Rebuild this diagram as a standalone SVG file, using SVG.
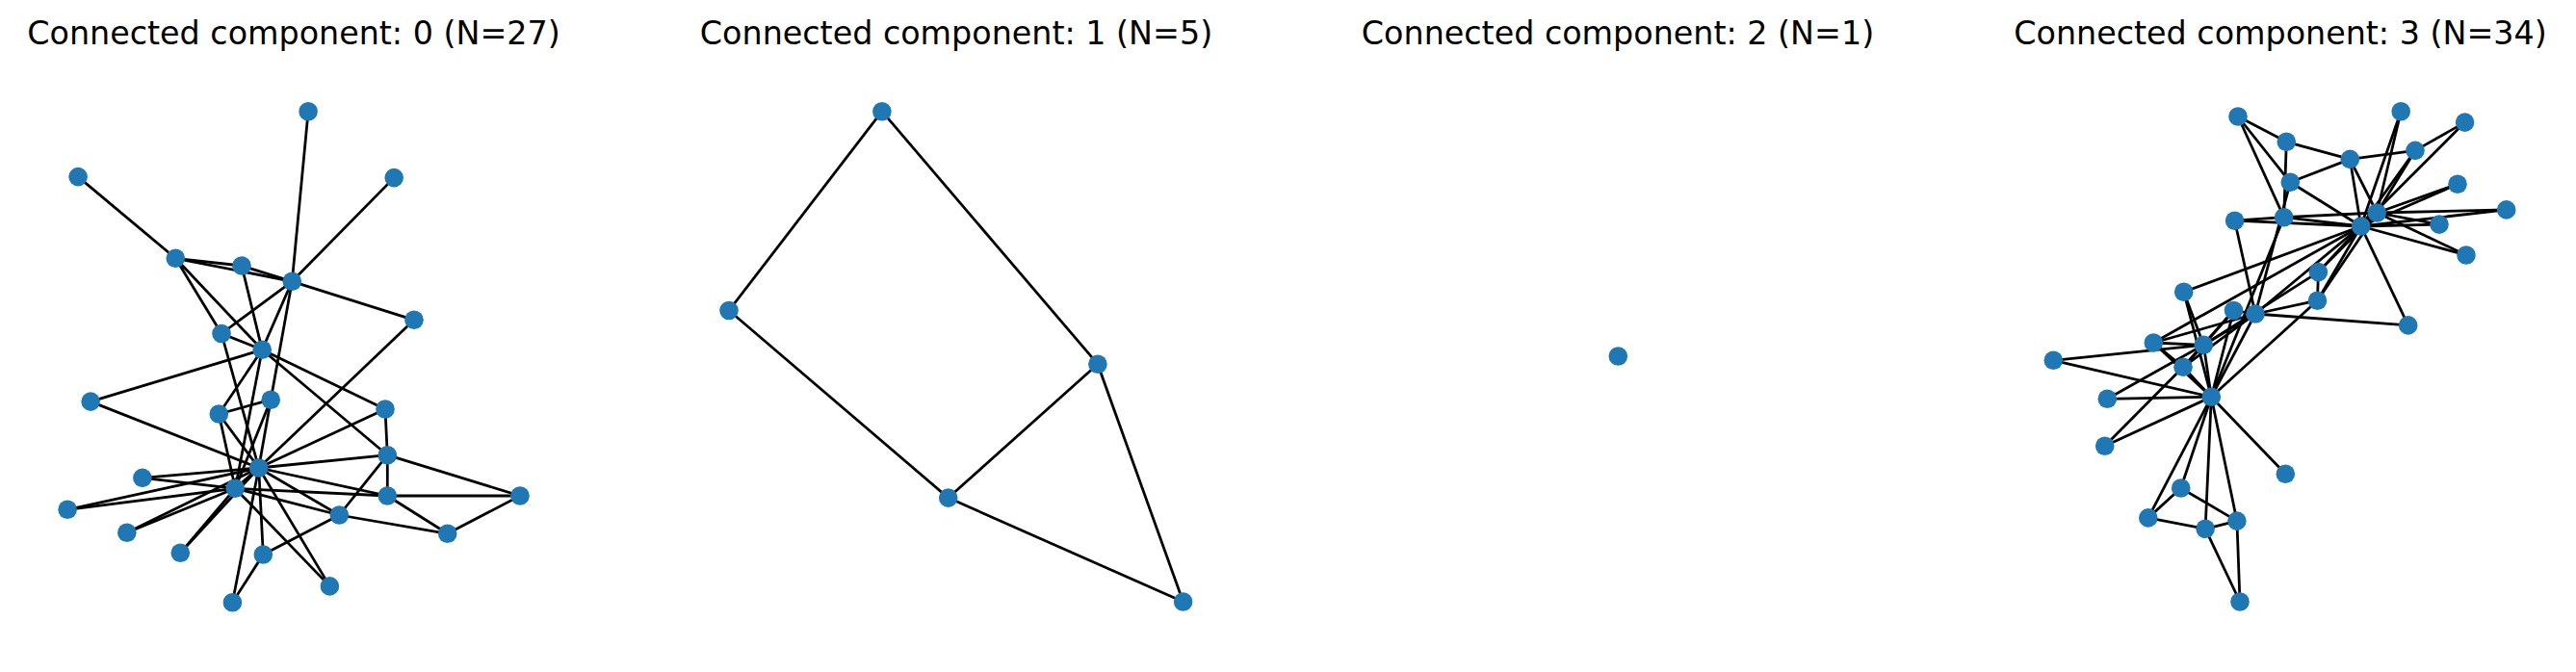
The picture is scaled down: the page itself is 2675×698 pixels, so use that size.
<svg xmlns="http://www.w3.org/2000/svg" width="2675" height="698" viewBox="0 0 2675 698">
<style>
.e{stroke:#000;stroke-width:2.78;stroke-linecap:butt}
.n{fill:#1f77b4}
.t{font-family:"DejaVu Sans",sans-serif;font-size:33.33px;text-anchor:middle;fill:#000}
</style>
<rect width="2675" height="698" fill="#fff"/>
<g id="titles">
<text class="t" x="305" y="46">Connected component: 0 (N=27)</text>
<text class="t" x="993" y="46">Connected component: 1 (N=5)</text>
<text class="t" x="1680" y="46">Connected component: 2 (N=1)</text>
<text class="t" x="2368" y="46">Connected component: 3 (N=34)</text>
</g>
<g id="connectors">
<line class="e" x1="81.1" y1="183.6" x2="182.3" y2="268.3"/>
<line class="e" x1="320.1" y1="115.7" x2="303.3" y2="292.3"/>
<line class="e" x1="409.2" y1="184.6" x2="303.3" y2="292.3"/>
<line class="e" x1="182.3" y1="268.3" x2="251" y2="276"/>
<line class="e" x1="182.3" y1="268.3" x2="303.3" y2="292.3"/>
<line class="e" x1="251" y1="276" x2="303.3" y2="292.3"/>
<line class="e" x1="303.3" y1="292.3" x2="430" y2="332.3"/>
<line class="e" x1="182.3" y1="268.3" x2="230" y2="346.5"/>
<line class="e" x1="182.3" y1="268.3" x2="272.2" y2="363.3"/>
<line class="e" x1="251" y1="276" x2="272.2" y2="363.3"/>
<line class="e" x1="303.3" y1="292.3" x2="230" y2="346.5"/>
<line class="e" x1="303.3" y1="292.3" x2="272.2" y2="363.3"/>
<line class="e" x1="303.3" y1="292.3" x2="281.2" y2="415.2"/>
<line class="e" x1="230" y1="346.5" x2="272.2" y2="363.3"/>
<line class="e" x1="230" y1="346.5" x2="268.7" y2="486"/>
<line class="e" x1="272.2" y1="363.3" x2="94.1" y2="417.1"/>
<line class="e" x1="272.2" y1="363.3" x2="227.3" y2="430"/>
<line class="e" x1="272.2" y1="363.3" x2="244.3" y2="507.3"/>
<line class="e" x1="272.2" y1="363.3" x2="400" y2="425"/>
<line class="e" x1="272.2" y1="363.3" x2="402.3" y2="472.7"/>
<line class="e" x1="94.1" y1="417.1" x2="268.7" y2="486"/>
<line class="e" x1="281.2" y1="415.2" x2="227.3" y2="430"/>
<line class="e" x1="281.2" y1="415.2" x2="268.7" y2="486"/>
<line class="e" x1="281.2" y1="415.2" x2="244.3" y2="507.3"/>
<line class="e" x1="227.3" y1="430" x2="268.7" y2="486"/>
<line class="e" x1="227.3" y1="430" x2="244.3" y2="507.3"/>
<line class="e" x1="430" y1="332.3" x2="268.7" y2="486"/>
<line class="e" x1="400" y1="425" x2="402.3" y2="472.7"/>
<line class="e" x1="400" y1="425" x2="268.7" y2="486"/>
<line class="e" x1="402.3" y1="472.7" x2="268.7" y2="486"/>
<line class="e" x1="402.3" y1="472.7" x2="402.3" y2="515"/>
<line class="e" x1="402.3" y1="472.7" x2="352.3" y2="535"/>
<line class="e" x1="402.3" y1="472.7" x2="540" y2="515"/>
<line class="e" x1="402.3" y1="515" x2="540" y2="515"/>
<line class="e" x1="402.3" y1="515" x2="464.7" y2="554.3"/>
<line class="e" x1="540" y1="515" x2="464.7" y2="554.3"/>
<line class="e" x1="352.3" y1="535" x2="464.7" y2="554.3"/>
<line class="e" x1="352.3" y1="535" x2="273.3" y2="576"/>
<line class="e" x1="268.7" y1="486" x2="402.3" y2="515"/>
<line class="e" x1="244.3" y1="507.3" x2="402.3" y2="515"/>
<line class="e" x1="268.7" y1="486" x2="352.3" y2="535"/>
<line class="e" x1="244.3" y1="507.3" x2="352.3" y2="535"/>
<line class="e" x1="268.7" y1="486" x2="147.9" y2="496.4"/>
<line class="e" x1="147.9" y1="496.4" x2="244.3" y2="507.3"/>
<line class="e" x1="268.7" y1="486" x2="70.1" y2="529.3"/>
<line class="e" x1="244.3" y1="507.3" x2="70.1" y2="529.3"/>
<line class="e" x1="268.7" y1="486" x2="131.8" y2="553.2"/>
<line class="e" x1="244.3" y1="507.3" x2="131.8" y2="553.2"/>
<line class="e" x1="268.7" y1="486" x2="187.3" y2="574.3"/>
<line class="e" x1="244.3" y1="507.3" x2="187.3" y2="574.3"/>
<line class="e" x1="268.7" y1="486" x2="273.3" y2="576"/>
<line class="e" x1="268.7" y1="486" x2="342.4" y2="608.9"/>
<line class="e" x1="244.3" y1="507.3" x2="342.4" y2="608.9"/>
<line class="e" x1="268.7" y1="486" x2="241.4" y2="625.7"/>
<line class="e" x1="273.3" y1="576" x2="241.4" y2="625.7"/>
<line class="e" x1="268.7" y1="486" x2="244.3" y2="507.3"/>
<line class="e" x1="915.9" y1="115.7" x2="757" y2="322.5"/>
<line class="e" x1="915.9" y1="115.7" x2="1139.9" y2="378.2"/>
<line class="e" x1="757" y1="322.5" x2="984.7" y2="517.1"/>
<line class="e" x1="1139.9" y1="378.2" x2="984.7" y2="517.1"/>
<line class="e" x1="1139.9" y1="378.2" x2="1228.6" y2="625"/>
<line class="e" x1="984.7" y1="517.1" x2="1228.6" y2="625"/>
<line class="e" x1="2296.3" y1="412.3" x2="2288.3" y2="358.3"/>
<line class="e" x1="2296.3" y1="412.3" x2="2342" y2="326"/>
<line class="e" x1="2296.3" y1="412.3" x2="2267" y2="381.3"/>
<line class="e" x1="2296.3" y1="412.3" x2="2264.7" y2="507"/>
<line class="e" x1="2296.3" y1="412.3" x2="2290.1" y2="549.3"/>
<line class="e" x1="2296.3" y1="412.3" x2="2322.9" y2="541.1"/>
<line class="e" x1="2296.3" y1="412.3" x2="2319.5" y2="322.5"/>
<line class="e" x1="2296.3" y1="412.3" x2="2406.5" y2="312.2"/>
<line class="e" x1="2296.3" y1="412.3" x2="2230.8" y2="537.9"/>
<line class="e" x1="2296.3" y1="412.3" x2="2373.3" y2="492.2"/>
<line class="e" x1="2296.3" y1="412.3" x2="2185.7" y2="463.3"/>
<line class="e" x1="2296.3" y1="412.3" x2="2236.3" y2="356"/>
<line class="e" x1="2296.3" y1="412.3" x2="2132.3" y2="374.3"/>
<line class="e" x1="2296.3" y1="412.3" x2="2267.7" y2="303.3"/>
<line class="e" x1="2296.3" y1="412.3" x2="2188.3" y2="414.3"/>
<line class="e" x1="2296.3" y1="412.3" x2="2371.7" y2="225.7"/>
<line class="e" x1="2288.3" y1="358.3" x2="2342" y2="326"/>
<line class="e" x1="2288.3" y1="358.3" x2="2267" y2="381.3"/>
<line class="e" x1="2288.3" y1="358.3" x2="2319.5" y2="322.5"/>
<line class="e" x1="2288.3" y1="358.3" x2="2236.3" y2="356"/>
<line class="e" x1="2288.3" y1="358.3" x2="2132.3" y2="374.3"/>
<line class="e" x1="2288.3" y1="358.3" x2="2267.7" y2="303.3"/>
<line class="e" x1="2288.3" y1="358.3" x2="2188.3" y2="414.3"/>
<line class="e" x1="2288.3" y1="358.3" x2="2407.4" y2="282.6"/>
<line class="e" x1="2342" y1="326" x2="2267" y2="381.3"/>
<line class="e" x1="2342" y1="326" x2="2319.5" y2="322.5"/>
<line class="e" x1="2342" y1="326" x2="2406.5" y2="312.2"/>
<line class="e" x1="2342" y1="326" x2="2500.7" y2="337.9"/>
<line class="e" x1="2342" y1="326" x2="2236.3" y2="356"/>
<line class="e" x1="2342" y1="326" x2="2378.3" y2="189.3"/>
<line class="e" x1="2342" y1="326" x2="2320.6" y2="229.2"/>
<line class="e" x1="2342" y1="326" x2="2468.3" y2="221"/>
<line class="e" x1="2267" y1="381.3" x2="2319.5" y2="322.5"/>
<line class="e" x1="2267" y1="381.3" x2="2185.7" y2="463.3"/>
<line class="e" x1="2267" y1="381.3" x2="2236.3" y2="356"/>
<line class="e" x1="2264.7" y1="507" x2="2322.9" y2="541.1"/>
<line class="e" x1="2264.7" y1="507" x2="2230.8" y2="537.9"/>
<line class="e" x1="2290.1" y1="549.3" x2="2322.9" y2="541.1"/>
<line class="e" x1="2290.1" y1="549.3" x2="2230.8" y2="537.9"/>
<line class="e" x1="2290.1" y1="549.3" x2="2326" y2="625"/>
<line class="e" x1="2322.9" y1="541.1" x2="2326" y2="625"/>
<line class="e" x1="2406.5" y1="312.2" x2="2407.4" y2="282.6"/>
<line class="e" x1="2406.5" y1="312.2" x2="2468.3" y2="221"/>
<line class="e" x1="2406.5" y1="312.2" x2="2451.7" y2="235"/>
<line class="e" x1="2500.7" y1="337.9" x2="2451.7" y2="235"/>
<line class="e" x1="2236.3" y1="356" x2="2451.7" y2="235"/>
<line class="e" x1="2493.2" y1="115.7" x2="2468.3" y2="221"/>
<line class="e" x1="2493.2" y1="115.7" x2="2451.7" y2="235"/>
<line class="e" x1="2552" y1="191.3" x2="2468.3" y2="221"/>
<line class="e" x1="2552" y1="191.3" x2="2451.7" y2="235"/>
<line class="e" x1="2602.7" y1="217.9" x2="2468.3" y2="221"/>
<line class="e" x1="2602.7" y1="217.9" x2="2451.7" y2="235"/>
<line class="e" x1="2267.7" y1="303.3" x2="2451.7" y2="235"/>
<line class="e" x1="2533" y1="233.1" x2="2468.3" y2="221"/>
<line class="e" x1="2533" y1="233.1" x2="2451.7" y2="235"/>
<line class="e" x1="2561" y1="265" x2="2468.3" y2="221"/>
<line class="e" x1="2561" y1="265" x2="2451.7" y2="235"/>
<line class="e" x1="2440.3" y1="165.4" x2="2374.3" y2="147.3"/>
<line class="e" x1="2440.3" y1="165.4" x2="2378.3" y2="189.3"/>
<line class="e" x1="2440.3" y1="165.4" x2="2508" y2="156.4"/>
<line class="e" x1="2440.3" y1="165.4" x2="2468.3" y2="221"/>
<line class="e" x1="2440.3" y1="165.4" x2="2451.7" y2="235"/>
<line class="e" x1="2324" y1="121" x2="2374.3" y2="147.3"/>
<line class="e" x1="2324" y1="121" x2="2378.3" y2="189.3"/>
<line class="e" x1="2324" y1="121" x2="2371.7" y2="225.7"/>
<line class="e" x1="2374.3" y1="147.3" x2="2371.7" y2="225.7"/>
<line class="e" x1="2559.6" y1="127.1" x2="2508" y2="156.4"/>
<line class="e" x1="2559.6" y1="127.1" x2="2451.7" y2="235"/>
<line class="e" x1="2378.3" y1="189.3" x2="2451.7" y2="235"/>
<line class="e" x1="2320.6" y1="229.2" x2="2371.7" y2="225.7"/>
<line class="e" x1="2320.6" y1="229.2" x2="2451.7" y2="235"/>
<line class="e" x1="2508" y1="156.4" x2="2468.3" y2="221"/>
<line class="e" x1="2508" y1="156.4" x2="2451.7" y2="235"/>
<line class="e" x1="2407.4" y1="282.6" x2="2468.3" y2="221"/>
<line class="e" x1="2407.4" y1="282.6" x2="2451.7" y2="235"/>
<line class="e" x1="2371.7" y1="225.7" x2="2468.3" y2="221"/>
<line class="e" x1="2371.7" y1="225.7" x2="2451.7" y2="235"/>
<line class="e" x1="2468.3" y1="221" x2="2451.7" y2="235"/>
</g>
<g id="c0-A"><circle class="n" cx="320.1" cy="115.7" r="9.8"/></g>
<g id="c0-B"><circle class="n" cx="81.1" cy="183.6" r="9.8"/></g>
<g id="c0-C"><circle class="n" cx="409.2" cy="184.6" r="9.8"/></g>
<g id="c0-D"><circle class="n" cx="182.3" cy="268.3" r="9.8"/></g>
<g id="c0-E"><circle class="n" cx="251" cy="276" r="9.8"/></g>
<g id="c0-F"><circle class="n" cx="303.3" cy="292.3" r="9.8"/></g>
<g id="c0-G"><circle class="n" cx="430" cy="332.3" r="9.8"/></g>
<g id="c0-H"><circle class="n" cx="230" cy="346.5" r="9.8"/></g>
<g id="c0-I"><circle class="n" cx="272.2" cy="363.3" r="9.8"/></g>
<g id="c0-J"><circle class="n" cx="94.1" cy="417.1" r="9.8"/></g>
<g id="c0-K"><circle class="n" cx="281.2" cy="415.2" r="9.8"/></g>
<g id="c0-L"><circle class="n" cx="227.3" cy="430" r="9.8"/></g>
<g id="c0-M"><circle class="n" cx="400" cy="425" r="9.8"/></g>
<g id="c0-N"><circle class="n" cx="402.3" cy="472.7" r="9.8"/></g>
<g id="c0-O"><circle class="n" cx="268.7" cy="486" r="9.8"/></g>
<g id="c0-P"><circle class="n" cx="147.9" cy="496.4" r="9.8"/></g>
<g id="c0-Q"><circle class="n" cx="244.3" cy="507.3" r="9.8"/></g>
<g id="c0-R"><circle class="n" cx="402.3" cy="515" r="9.8"/></g>
<g id="c0-S"><circle class="n" cx="540" cy="515" r="9.8"/></g>
<g id="c0-T"><circle class="n" cx="70.1" cy="529.3" r="9.8"/></g>
<g id="c0-U"><circle class="n" cx="352.3" cy="535" r="9.8"/></g>
<g id="c0-V"><circle class="n" cx="131.8" cy="553.2" r="9.8"/></g>
<g id="c0-W"><circle class="n" cx="464.7" cy="554.3" r="9.8"/></g>
<g id="c0-X"><circle class="n" cx="187.3" cy="574.3" r="9.8"/></g>
<g id="c0-Y"><circle class="n" cx="273.3" cy="576" r="9.8"/></g>
<g id="c0-Z"><circle class="n" cx="342.4" cy="608.9" r="9.8"/></g>
<g id="c0-AA"><circle class="n" cx="241.4" cy="625.7" r="9.8"/></g>
<g id="c1-a"><circle class="n" cx="915.9" cy="115.7" r="9.8"/></g>
<g id="c1-b"><circle class="n" cx="757" cy="322.5" r="9.8"/></g>
<g id="c1-c"><circle class="n" cx="1139.9" cy="378.2" r="9.8"/></g>
<g id="c1-d"><circle class="n" cx="984.7" cy="517.1" r="9.8"/></g>
<g id="c1-e"><circle class="n" cx="1228.6" cy="625" r="9.8"/></g>
<g id="c2-a"><circle class="n" cx="1680.3" cy="370" r="9.8"/></g>
<g id="k0"><circle class="n" cx="2296.3" cy="412.3" r="9.8"/></g>
<g id="k1"><circle class="n" cx="2288.3" cy="358.3" r="9.8"/></g>
<g id="k2"><circle class="n" cx="2342" cy="326" r="9.8"/></g>
<g id="k3"><circle class="n" cx="2267" cy="381.3" r="9.8"/></g>
<g id="k4"><circle class="n" cx="2264.7" cy="507" r="9.8"/></g>
<g id="k5"><circle class="n" cx="2290.1" cy="549.3" r="9.8"/></g>
<g id="k6"><circle class="n" cx="2322.9" cy="541.1" r="9.8"/></g>
<g id="k7"><circle class="n" cx="2319.5" cy="322.5" r="9.8"/></g>
<g id="k8"><circle class="n" cx="2406.5" cy="312.2" r="9.8"/></g>
<g id="k9"><circle class="n" cx="2500.7" cy="337.9" r="9.8"/></g>
<g id="k10"><circle class="n" cx="2230.8" cy="537.9" r="9.8"/></g>
<g id="k11"><circle class="n" cx="2373.3" cy="492.2" r="9.8"/></g>
<g id="k12"><circle class="n" cx="2185.7" cy="463.3" r="9.8"/></g>
<g id="k13"><circle class="n" cx="2236.3" cy="356" r="9.8"/></g>
<g id="k14"><circle class="n" cx="2493.2" cy="115.7" r="9.8"/></g>
<g id="k15"><circle class="n" cx="2552" cy="191.3" r="9.8"/></g>
<g id="k16"><circle class="n" cx="2326" cy="625" r="9.8"/></g>
<g id="k17"><circle class="n" cx="2132.3" cy="374.3" r="9.8"/></g>
<g id="k18"><circle class="n" cx="2602.7" cy="217.9" r="9.8"/></g>
<g id="k19"><circle class="n" cx="2267.7" cy="303.3" r="9.8"/></g>
<g id="k20"><circle class="n" cx="2533" cy="233.1" r="9.8"/></g>
<g id="k21"><circle class="n" cx="2188.3" cy="414.3" r="9.8"/></g>
<g id="k22"><circle class="n" cx="2561" cy="265" r="9.8"/></g>
<g id="k23"><circle class="n" cx="2440.3" cy="165.4" r="9.8"/></g>
<g id="k24"><circle class="n" cx="2324" cy="121" r="9.8"/></g>
<g id="k25"><circle class="n" cx="2374.3" cy="147.3" r="9.8"/></g>
<g id="k26"><circle class="n" cx="2559.6" cy="127.1" r="9.8"/></g>
<g id="k27"><circle class="n" cx="2378.3" cy="189.3" r="9.8"/></g>
<g id="k28"><circle class="n" cx="2320.6" cy="229.2" r="9.8"/></g>
<g id="k29"><circle class="n" cx="2508" cy="156.4" r="9.8"/></g>
<g id="k30"><circle class="n" cx="2407.4" cy="282.6" r="9.8"/></g>
<g id="k31"><circle class="n" cx="2371.7" cy="225.7" r="9.8"/></g>
<g id="k32"><circle class="n" cx="2468.3" cy="221" r="9.8"/></g>
<g id="k33"><circle class="n" cx="2451.7" cy="235" r="9.8"/></g>
</svg>
